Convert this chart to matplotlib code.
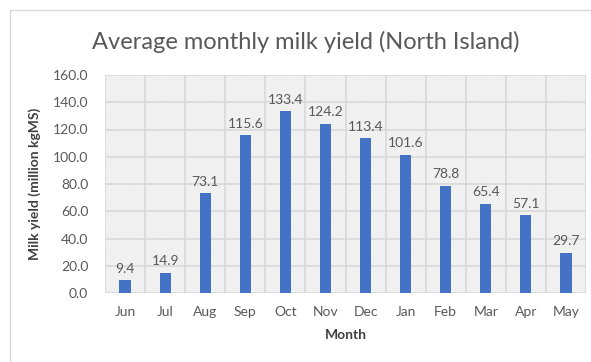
import matplotlib
matplotlib.use("Agg")
import matplotlib.pyplot as plt
from matplotlib.patches import Rectangle
import numpy as np

months = ["Jun", "Jul", "Aug", "Sep", "Oct", "Nov", "Dec", "Jan", "Feb", "Mar", "Apr", "May"]
yield_values = [9.4, 14.9, 73.1, 115.6, 133.4, 124.2, 113.4, 101.6, 78.8, 65.4, 57.1, 29.7]
y_ticks = [0, 20, 40, 60, 80, 100, 120, 140, 160]

plt.rcParams["font.family"] = ["Lato", "DejaVu Sans"]
plt.rcParams["hatch.color"] = "#e6e6e6"
plt.rcParams["hatch.linewidth"] = 0.6

text_gray = "#595959"
grid_gray = "#d9d9d9"
bar_blue = "#4472c4"

fig = plt.figure(figsize=(5.91, 3.62), dpi=100)
fig.patch.set_facecolor("white")

# chart-area border
fig.patches.append(Rectangle((10 / 591, -0.2), 1.2, 1.2 - 10 / 362,
                             transform=fig.transFigure, fill=False,
                             edgecolor=grid_gray, linewidth=1.0))

ax = fig.add_axes([105 / 591, 1 - 293 / 362, 481 / 591, 218 / 362])
x = np.arange(len(months))

# hatched plot-area background
ax.add_patch(Rectangle((0, 0), 1, 1, transform=ax.transAxes, facecolor="white",
                       hatch="\\" * 16, edgecolor="#e6e6e6", linewidth=0, zorder=0))

ax.set_xlim(-0.5, len(months) - 0.5)
ax.set_ylim(0, 160)

# gridlines
for yt in y_ticks:
    ax.axhline(yt, color=grid_gray, linewidth=1.2, zorder=1)
for b in np.arange(-0.5, len(months)):
    ax.axvline(b, color=grid_gray, linewidth=1.2, zorder=1)

ax.bar(x, yield_values, width=0.28, color=bar_blue, zorder=3)

for xi, v in zip(x, yield_values):
    ax.annotate(f"{v:.1f}", (xi, v), xytext=(0, 4), textcoords="offset points",
                ha="center", va="bottom", fontsize=10, color=text_gray, zorder=4)

ax.set_xticks(x)
ax.set_xticklabels(months)
ax.set_yticks(y_ticks)
ax.set_yticklabels([f"{t:.1f}" for t in y_ticks])
ax.tick_params(axis="both", length=0, labelsize=10, labelcolor=text_gray)
ax.tick_params(axis="y", pad=12)
ax.tick_params(axis="x", pad=9)

for s in ax.spines.values():
    s.set_visible(False)

ax.set_xlabel("Month", fontsize=10, fontweight="bold", color="#404040", labelpad=8)
fig.text(35 / 591, 1 - 184 / 362, "Milk yield (million kgMS)", rotation=90,
         ha="center", va="center", fontsize=10, fontweight="bold", color="#404040")

fig.text(306 / 591, 1 - 42 / 362, "Average monthly milk yield (North Island)",
         ha="center", va="center", fontsize=17, fontweight="normal", color=text_gray)

fig.savefig("out.png", dpi=100)
